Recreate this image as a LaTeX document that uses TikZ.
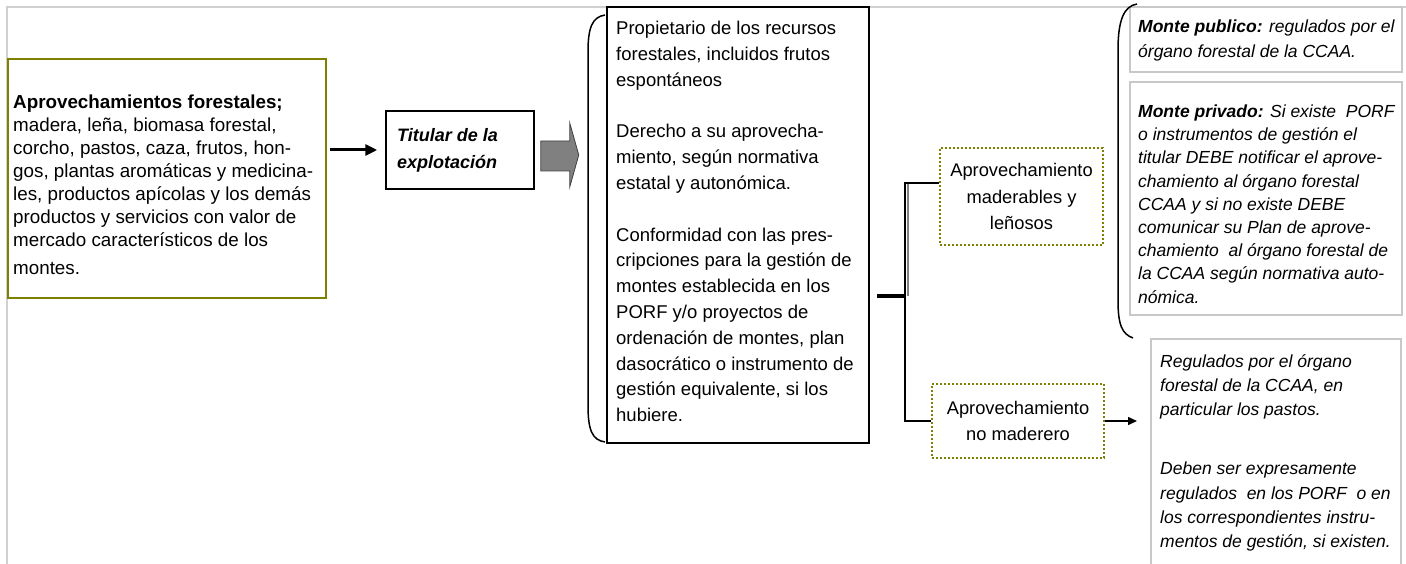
\documentclass[tikz,border=0pt]{standalone}
\usepackage{fontspec}
\setmainfont{Liberation Sans}
\usetikzlibrary{arrows.meta}
\definecolor{olivec}{RGB}{128,128,0}
\definecolor{framegray}{RGB}{208,208,208}
\definecolor{boxgray}{RGB}{200,200,200}
\definecolor{arrowgray}{RGB}{128,128,128}
\newcommand\fsrc{\fontsize{18.8}{23}\selectfont}
\newcommand\ftit{\fontsize{18}{27}\selectfont\bfseries\itshape}
\newcommand\fprop{\fontsize{18.5}{25.8}\selectfont}
\newcommand\fdot{\fontsize{18.3}{26.5}\selectfont}
\newcommand\fpub{\fontsize{17.5}{25}\selectfont\itshape}
\newcommand\fpriv{\fontsize{17.5}{23.2}\selectfont\itshape}
\newcommand\fnoreg{\fontsize{17.5}{24.3}\selectfont\itshape}
\begin{document}
\begin{tikzpicture}[x=1pt,y=-1pt,
  olivebox/.style={draw=olivec,line width=2.5pt,inner sep=0pt},
  blackbox/.style={draw=black,line width=1.5pt,inner sep=0pt},
  dotbox/.style={draw=olivec,line width=2pt,dash pattern=on 2pt off 2pt,inner sep=0pt,align=center,font=\fdot},
  graybox/.style={draw=boxgray,line width=2pt,inner sep=0pt},
  txt/.style={inner sep=0pt,anchor=north west,align=left},
  conn/.style={draw=black,line width=1.5pt},
  bracket/.style={draw=black,line width=1.5pt},
  blockarrow/.style={fill=arrowgray,draw=black!75,line width=0.8pt}
]
\useasboundingbox (0,0) rectangle (1406,564);
\clip (0,0) rectangle (1406,564);
% frame
\draw[framegray,line width=2pt] (7,564) -- (7,7) -- (1406,7);

% boxes
\node[olivebox,minimum width=318pt,minimum height=239pt] (src) at (167,178.5) {};
\node[blackbox,minimum width=148pt,minimum height=78pt] (tit) at (460,150) {};
\node[blackbox,line width=2pt,minimum width=262pt,minimum height=436pt] (prop) at (738,225) {};
\node[dotbox,minimum width=163pt,minimum height=97pt] (mad) at (1021.5,196.5)
  {Aprovechamiento\\maderables y\\leñosos};
\node[dotbox,minimum width=172pt,minimum height=74pt] (nomad) at (1018,421)
  {Aprovechamiento\\no maderero};
\node[graybox,minimum width=272pt,minimum height=65pt] (pub) at (1266,39.5) {};
\node[graybox,minimum width=272pt,minimum height=233pt] (priv) at (1266,198.5) {};
\node[graybox,minimum width=250pt,minimum height=240pt] (noreg) at (1276,459) {};

% texts
\node[txt,font=\fsrc] (srctext) at (13,91.9) {\strut\textbf{Aprovechamientos forestales;}\\
madera, leña, biomasa forestal,\\
corcho, pastos, caza, frutos, hon-\\
gos, plantas aromáticas y medicina-\\
les, productos apícolas y los demás\\
productos y servicios con valor de\\
mercado característicos de los\\[5pt]
montes.};
\node[txt,font=\ftit] (tittext) at (397,122) {\strut Titular de la\\explotación};
\node[txt,font=\fprop] (proptext) at (616,16.5) {\strut Propietario de los recursos\\
forestales, incluidos frutos\\
espontáneos\\[25.8pt]
Derecho a su aprovecha-\\
miento, según normativa\\
estatal y autonómica.\\[25.8pt]
Conformidad con las pres-\\
cripciones para la gestión de\\
montes establecida en los\\
PORF y/o proyectos de\\
ordenación de montes, plan\\
dasocrático o instrumento de\\
gestión equivalente, si los\\
hubiere.};
\node[txt,font=\fpub] (pubtext) at (1138,15) {\strut\textbf{Monte publico:} regulados por el\\
órgano forestal de la CCAA.};
\node[txt,font=\fpriv] (privtext) at (1138,101) {\strut\textbf{Monte privado:} Si existe\ \ PORF\\
o instrumentos de gestión el\\
titular DEBE notificar el aprove-\\
chamiento al órgano forestal\\
CCAA y si no existe DEBE\\
comunicar su Plan de aprove-\\
chamiento\ \ al órgano forestal de\\
la CCAA según normativa auto-\\
nómica.};
\node[txt,font=\fnoreg] (noregtext) at (1160,350) {\strut Regulados por el órgano\\
forestal de la CCAA, en\\
particular los pastos.\\[34.7pt]
Deben ser expresamente\\
regulados\ \ en los PORF\ \ o en\\
los correspondientes instru-\\
mentos de gestión, si existen.};

% brackets
\draw[bracket] (605,15) .. controls (592,17) and (588,28) .. (588,52) -- (588,405)
  .. controls (588,430) and (592,440) .. (605,442);
\draw[bracket] (1137,4) .. controls (1124,6) and (1118,20) .. (1118,50) -- (1118,300)
  .. controls (1118,325) and (1122,334) .. (1133,338);

% connectors
\draw[conn,line width=3pt,-{Triangle[length=12pt,width=11pt]}]
  ([xshift=3pt]src.east |- tit.west) -- ([xshift=-8pt]tit.west);
\draw[blockarrow,shift={(tit.east)}] (6,-9) -- (35,-9) -- (35,-27) -- (44,5) -- (35,37)
  -- (35,21) -- (6,21) -- cycle;
\coordinate (br) at (905,296);
\draw[arrowgray,line width=2.5pt] (908,296) -- (908,183);
\draw[conn,line width=3.5pt] ([xshift=7pt]prop.east |- br) -- (br);
\draw[conn] (br) |- ([yshift=13.5pt]mad.west);
\draw[conn] (br) |- (nomad.west);
\draw[conn,-{Triangle[length=9pt,width=8pt]}] (nomad.east) -- ([xshift=-13pt]noreg.west |- nomad.east);
\end{tikzpicture}
\end{document}
